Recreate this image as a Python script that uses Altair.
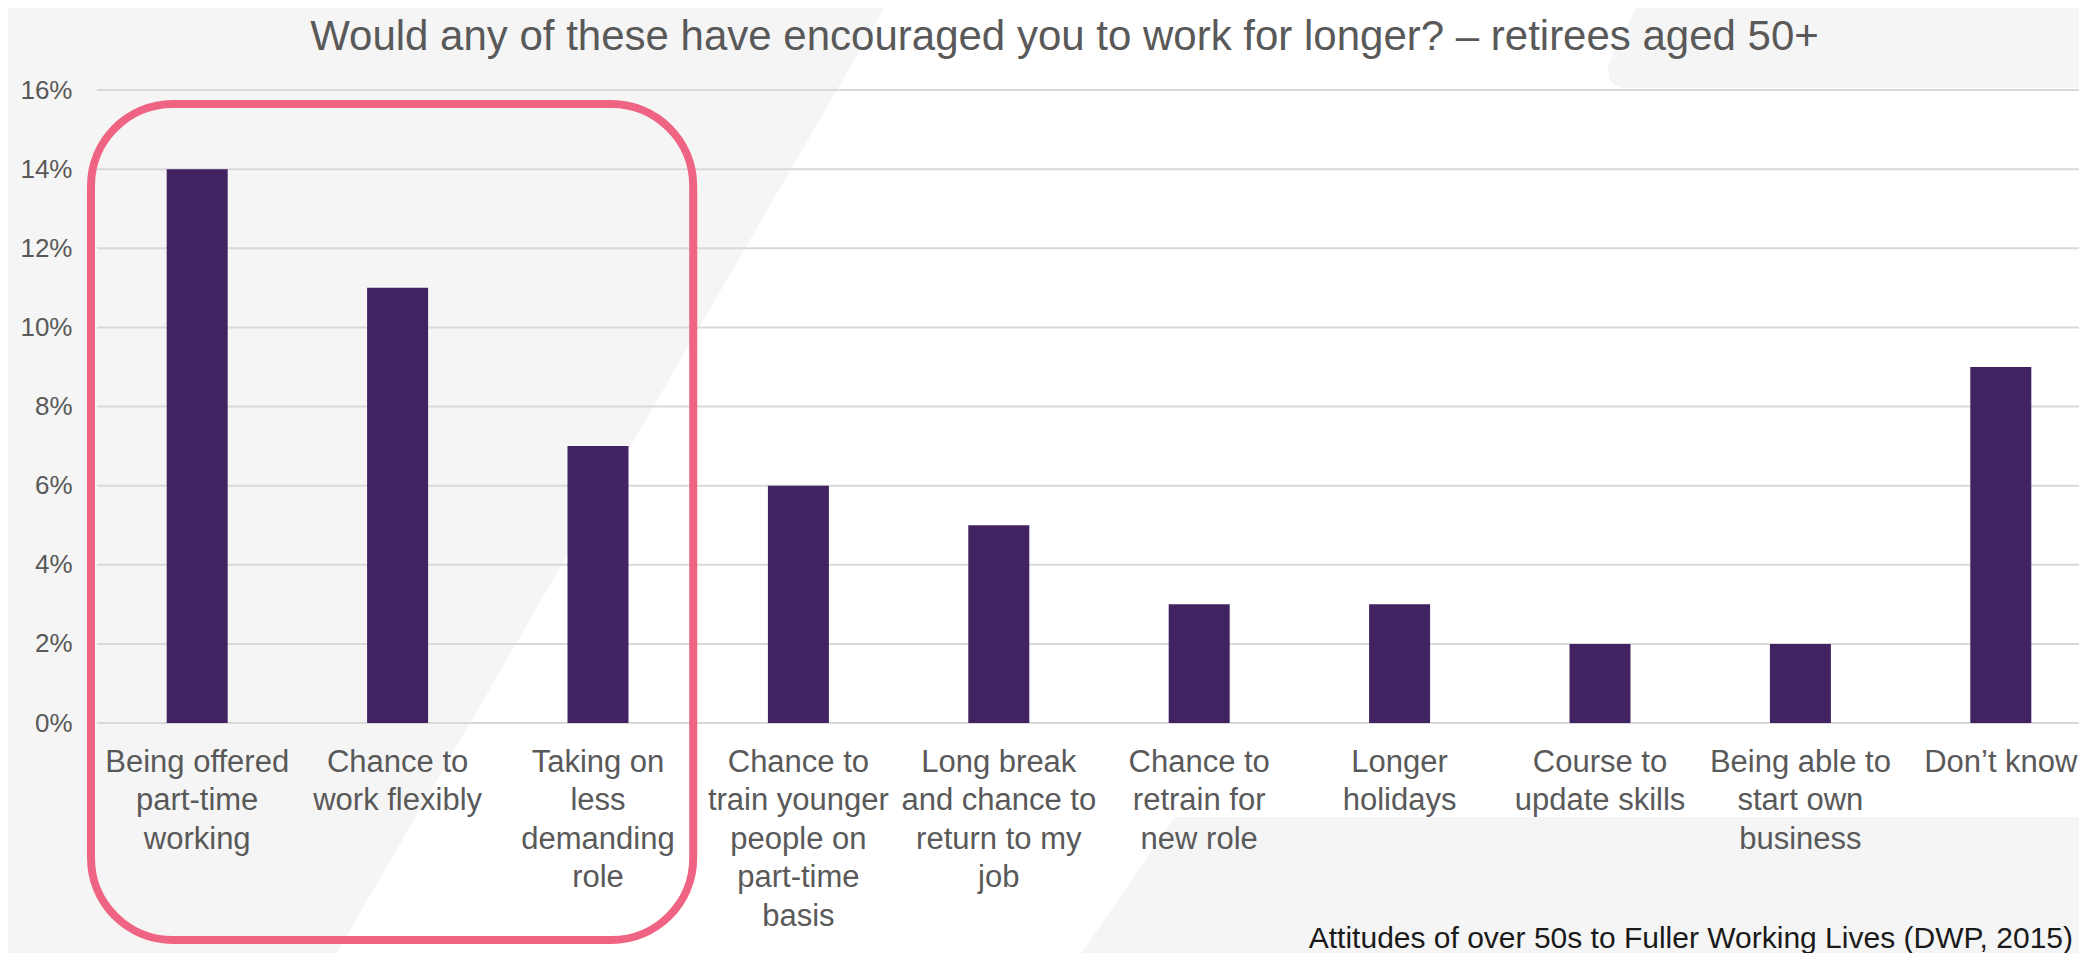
import json
import altair as alt
import pandas as pd

# ---------------- data ----------------
CATEGORY_LINES = [
    ["Being offered", "part-time", "working"],
    ["Chance to", "work flexibly"],
    ["Taking on", "less", "demanding", "role"],
    ["Chance to", "train younger", "people on", "part-time", "basis"],
    ["Long break", "and chance to", "return to my", "job"],
    ["Chance to", "retrain for", "new role"],
    ["Longer", "holidays"],
    ["Course to", "update skills"],
    ["Being able to", "start own", "business"],
    ["Don\u2019t know"],
]
CATEGORIES = [" ".join(lines) for lines in CATEGORY_LINES]
VALUES = [14, 11, 7, 6, 5, 3, 3, 2, 2, 9]
Y_TICKS = [0, 2, 4, 6, 8, 10, 12, 14, 16]

TITLE = "Would any of these have encouraged you to work for longer? \u2013 retirees aged 50+"
SOURCE = "Attitudes of over 50s to Fuller Working Lives (DWP, 2015)"

# ---------------- layout / style ----------------
FONT = "Liberation Sans, Arial, sans-serif"
PAD_LEFT, PAD_TOP = 89, 82          # plot origin on page = (97, 90)
ORIGIN_X, ORIGIN_Y = PAD_LEFT + 8, PAD_TOP + 8
W, H = 1982, 633
BAND_RANGE = 2004
STEP = BAND_RANGE / 10
BAR_COLOR = "#412361"
GRID_COLOR = "#d9d9d9"
TEXT_COLOR = "#595959"
PINK = "#EE6482"
BG_GREY = "#f5f5f5"

# decorative background shapes (page pixel coords)
DECOR = [
    [(0, 0), (889, 0), (327, 970), (0, 970)],
    [(1640, 0), (1626, 28), (1614, 50), (1608, 68), (1609, 79), (1614, 85),
     (1622, 88), (2095, 88), (2095, 0)],
    [(1175, 817), (2095, 817), (2095, 970), (1070, 970)],
]


def feature(poly):
    ring = [[x - ORIGIN_X, y - ORIGIN_Y] for x, y in poly]
    ring.append(ring[0])
    return {"type": "Feature", "properties": {},
            "geometry": {"type": "Polygon", "coordinates": [ring]}}


decor = alt.Chart(alt.InlineData(values=[feature(p) for p in DECOR])).mark_geoshape(
    fill=BG_GREY, strokeWidth=0, clip=False
).project(type="identity", scale=1, translate=[0, 0])

df = pd.DataFrame({"category": CATEGORIES, "value": VALUES})
grid_df = pd.DataFrame({"value": Y_TICKS})

label_map = {c: l for c, l in zip(CATEGORIES, CATEGORY_LINES)}
label_expr = "(" + json.dumps(label_map, ensure_ascii=False) + ")[datum.label]"

x_scale = alt.Scale(domain=CATEGORIES, range=[0, BAND_RANGE],
                    paddingInner=0.6956, paddingOuter=0.3478)
y_scale = alt.Scale(domain=[0, 16], nice=False, zero=True)
y_axis = alt.Axis(
    title=None, domain=False, ticks=False, tickSize=0, grid=False,
    values=Y_TICKS, labelExpr="datum.value + '%'",
    labelFont=FONT, labelFontSize=26, labelColor=TEXT_COLOR,
    labelPadding=25, zindex=1,
)

grid = alt.Chart(grid_df).mark_rule(color=GRID_COLOR, strokeWidth=2).encode(
    y=alt.Y("value:Q", scale=y_scale, axis=y_axis),
    x=alt.value(0),
    x2=alt.value(W + 20),
)

bars = alt.Chart(df).mark_bar(color=BAR_COLOR).encode(
    x=alt.X(
        "category:N", sort=CATEGORIES, scale=x_scale,
        axis=alt.Axis(
            title=None, domain=False, ticks=False, tickSize=0, labelAngle=0,
            labelFont=FONT, labelFontSize=31, labelColor=TEXT_COLOR,
            labelLineHeight=38.5, labelPadding=24, labelBaseline="top",
            labelLimit=0, labelOverlap=False, labelBound=False,
            labelExpr=label_expr, zindex=1,
        ),
    ),
    y=alt.Y("value:Q", scale=y_scale, axis=y_axis),
)

highlight = alt.Chart(pd.DataFrame({"group": ["highlight"]})).mark_rect(
    fill="white", fillOpacity=0, stroke=PINK, strokeWidth=8, cornerRadius=82
).encode(
    x=alt.value(-6),
    x2=alt.value(3 * STEP - 5),
    y=alt.value(104 - ORIGIN_Y),
    y2=alt.value(940 - ORIGIN_Y),
)

title = alt.Chart(pd.DataFrame({"text": [TITLE]})).mark_text(
    font=FONT, fontSize=42, color=TEXT_COLOR, align="center", baseline="alphabetic"
).encode(
    text="text:N",
    x=alt.value(1064.5 - ORIGIN_X),
    y=alt.value(50 - ORIGIN_Y),
)

source = alt.Chart(pd.DataFrame({"text": [SOURCE]})).mark_text(
    font=FONT, fontSize=30, color="#1a1a1a", align="right", baseline="alphabetic"
).encode(
    text="text:N",
    x=alt.value(2073 - ORIGIN_X),
    y=alt.value(948 - ORIGIN_Y),
)

chart = alt.layer(decor, grid, bars, highlight, title, source).properties(
    width=W,
    height=H,
    autosize=alt.AutoSizeParams(type="none"),
    padding={"left": PAD_LEFT, "top": PAD_TOP, "right": 0, "bottom": 230},
    background="white",
).configure_view(stroke=None)

chart.save("out.html", embed_options={"renderer": "svg", "actions": False})
